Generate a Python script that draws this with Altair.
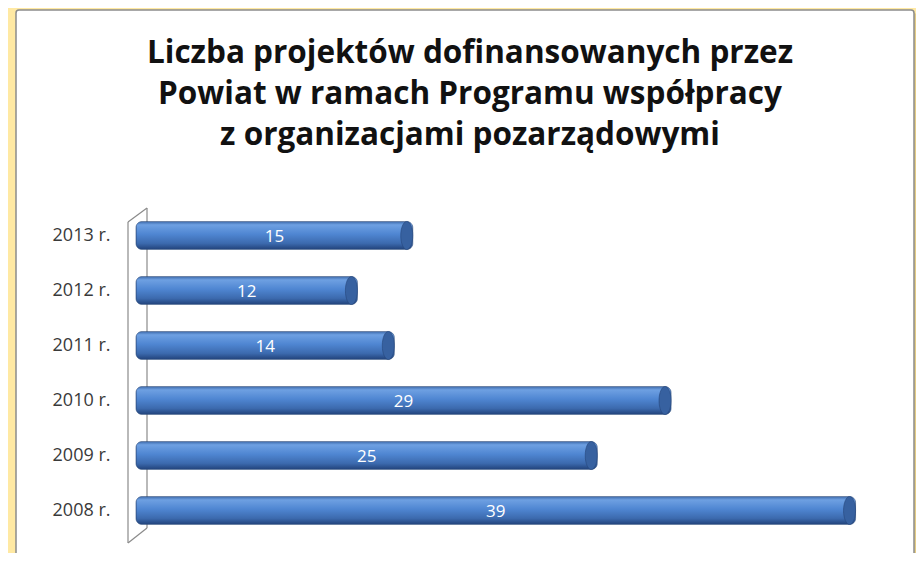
import altair as alt
import pandas as pd

# ---- data ----
years = ["2013 r.", "2012 r.", "2011 r.", "2010 r.", "2009 r.", "2008 r."]
counts = [15, 12, 14, 29, 25, 39]
title_lines = [
    "Liczba projektów dofinansowanych przez",
    "Powiat w ramach Programu współpracy",
    "z organizacjami pozarządowymi",
]

df = pd.DataFrame({"rok": years, "liczba": counts})
one = pd.DataFrame({"k": [0]})
title_df = pd.DataFrame({"t": ["\n".join(title_lines)]})

W, H = 738, 330
FONT = "Open Sans"

xs = alt.Scale(domain=[0, 40], nice=False, zero=True)
ys = alt.Scale(domain=years, paddingInner=0.49, paddingOuter=0.245)

Y = alt.Y("rok:N", scale=ys, sort=years,
          axis=alt.Axis(title=None, domain=False, ticks=False, labelPadding=26, zindex=1,
                        labelFont=FONT, labelFontSize=18, labelColor="#3a3a3a"))
X = alt.X("liczba:Q", scale=xs, axis=None)

# ---- decoration: panel ----
panel_shadow = alt.Chart(one).mark_rect(fill="#cdb56e", opacity=0.55, cornerRadius=3).encode(
    x=alt.value(-117), x2=alt.value(781), y=alt.value(-195), y2=alt.value(373))
panel = alt.Chart(one).mark_rect(fill="white", stroke="#8c8c8c", strokeWidth=1.5, cornerRadius=3).encode(
    x=alt.value(-120), x2=alt.value(778), y=alt.value(-198), y2=alt.value(370))

title = alt.Chart(title_df).mark_text(
    font=FONT, fontSize=31.5, fontWeight="bold", color="#111111", align="center",
    baseline="alphabetic", lineBreak="\n", lineHeight=41).encode(
    text="t:N", x=alt.value(334), y=alt.value(-145))

# ---- 3D wall ----
wall_col = "#8a8a8a"
wall = [
    alt.Chart(one).mark_rule(color=wall_col, strokeWidth=1.2).encode(
        x=alt.value(-8), y=alt.value(14), y2=alt.value(335)),
    alt.Chart(one).mark_rule(color=wall_col, strokeWidth=1.2).encode(
        x=alt.value(11), y=alt.value(0), y2=alt.value(320)),
    alt.Chart(one).mark_rule(color=wall_col, strokeWidth=1.2).encode(
        x=alt.value(-8), x2=alt.value(11), y=alt.value(14), y2=alt.value(0)),
    alt.Chart(one).mark_rule(color=wall_col, strokeWidth=1.2).encode(
        x=alt.value(-8), x2=alt.value(11), y=alt.value(335), y2=alt.value(320)),
]

# ---- cylinder bars ----
grad = alt.Gradient(
    gradient="linear", x1=0, x2=0, y1=0, y2=1,
    stops=[
        alt.GradientStop(color="#3d6aab", offset=0),
        alt.GradientStop(color="#6ea0e2", offset=0.12),
        alt.GradientStop(color="#4f86d2", offset=0.45),
        alt.GradientStop(color="#3c6aae", offset=0.78),
        alt.GradientStop(color="#21427a", offset=1),
    ])

bars = alt.Chart(df).mark_bar(size=28, cornerRadius=6, fill=grad, stroke="#2b4b7c",
                              strokeWidth=0.6).encode(y=Y, x=X)

ELLIPSE = "M0,-1 A0.43,1 0 1,1 0,1 A0.43,1 0 1,1 0,-1 Z"
caps = alt.Chart(df).mark_point(shape=ELLIPSE, size=784, filled=True, fill="#3761a0",
                                stroke="#27467a", strokeWidth=0.6, opacity=1,
                                xOffset=-6).encode(y=Y, x=X)

labels = alt.Chart(df).mark_text(color="white", font=FONT, fontSize=17,
                                 baseline="middle", align="center", dy=1).transform_calculate(
    mid="datum.liczba / 2").encode(
    y=Y, x=alt.X("mid:Q", scale=xs, axis=None), text="liczba:Q")

chart = alt.layer(panel_shadow, panel, title, *wall, bars, caps, labels).properties(
    width=W, height=H,
    autosize=alt.AutoSizeParams(type="none"),
    padding={"left": 128, "top": 200, "right": 42, "bottom": 15},
    background="#ffe9a3",
).configure_view(stroke=None)

chart.save("out.html", embed_options={"renderer": "svg", "actions": False})
